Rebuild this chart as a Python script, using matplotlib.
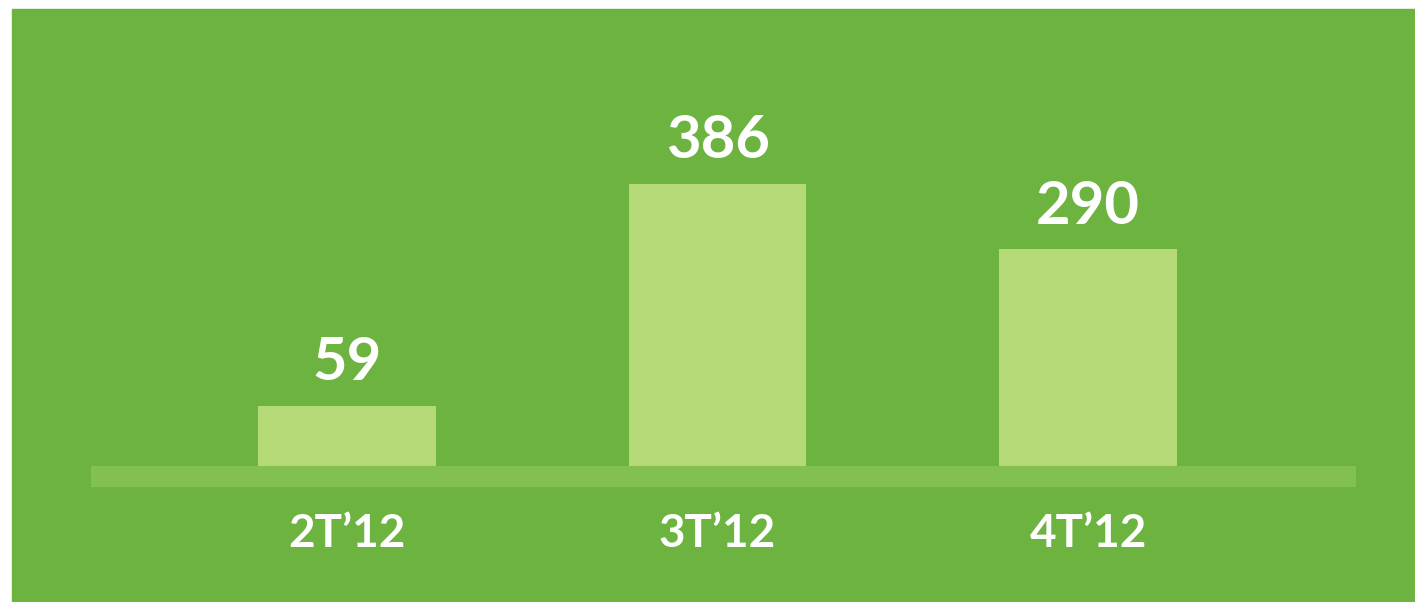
"""
Quarterly bar chart on a green panel.
"""
import matplotlib.pyplot as plt
from matplotlib.patches import Rectangle

quarters = ["2T’12", "3T’12", "4T’12"]
values = [59, 386, 290]

BG = "#6db33f"
BAR = "#b5d977"
STRIP = "#82c04f"
BASE = -30      # bars start a little below zero, as in the original
STRIP_LOW = -61

plt.rcParams["font.family"] = ["Lato", "DejaVu Sans"]

fig = plt.figure(figsize=(14.15, 6.02), dpi=100, facecolor="white")
W, H = 1415, 602

# green panel (white margin top and left)
fig.patches.append(Rectangle((12 / W, 0), 1 - 12 / W, 1 - 9 / H,
                             transform=fig.transFigure, color=BG, zorder=-5))

# axes placed in pixel terms: x 91..1356, y 9..487
ax = fig.add_axes([91 / W, (H - 487) / H, (1356 - 91) / W, (487 - 9) / H])
ax.set_zorder(2)
ax.set_facecolor("none")

xpos = list(range(len(values)))
ax.set_xlim(-0.691, 2.723)
ax.set_ylim(STRIP_LOW, STRIP_LOW + 478 / 0.6784)

ax.axhspan(STRIP_LOW, BASE, color=STRIP, lw=0)
ax.bar(xpos, [v - BASE for v in values], bottom=BASE, width=0.48,
       color=BAR, lw=0)

for x, v in zip(xpos, values):
    ax.annotate(str(v), (x, v), xytext=(0, 11), textcoords="offset points",
                ha="center", va="bottom", color="white",
                fontsize=43, fontweight="bold")

ax.set_xticks(xpos)
ax.set_xticklabels(quarters, color="white", fontsize=33, fontweight="bold")
ax.tick_params(axis="x", length=0, pad=19)
ax.set_yticks([])
for s in ax.spines.values():
    s.set_visible(False)

plt.savefig("out.png", dpi=100, facecolor="white")
